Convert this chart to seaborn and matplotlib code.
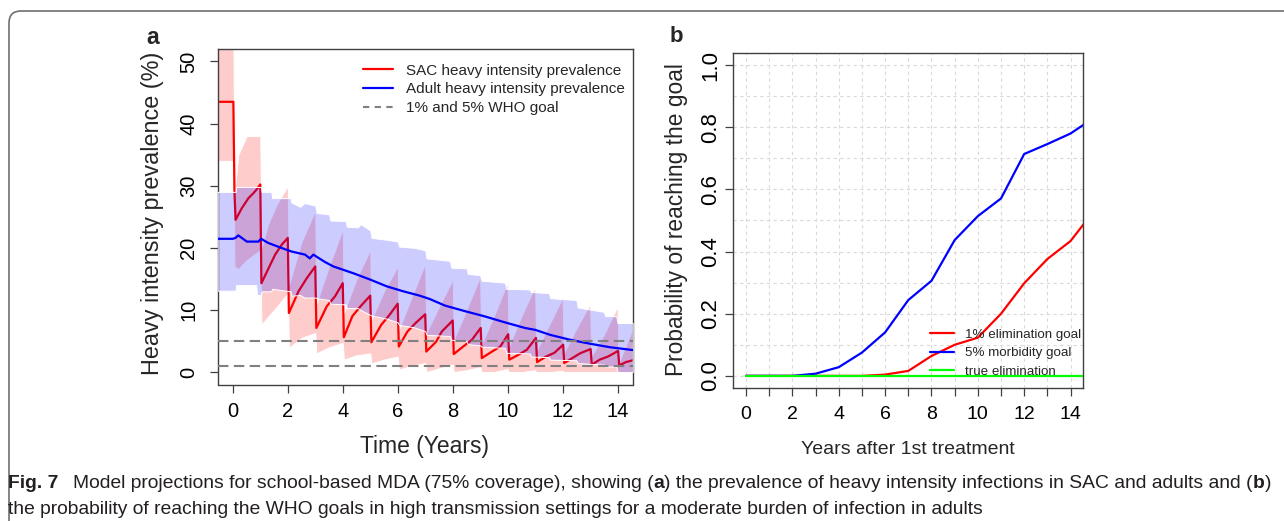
import numpy as np
import pandas as pd
import matplotlib
matplotlib.use("Agg")
import matplotlib.pyplot as plt
import seaborn as sns
from matplotlib.patches import FancyBboxPatch
from matplotlib.lines import Line2D
from matplotlib import font_manager

# ---------------- data: panel a ----------------
sac_t = [-0.55, 0.02, 0.06, 0.10, 0.33, 0.57, 0.75, 0.87, 1.00,
         1.04, 1.30, 1.54, 1.78, 2.00,
         2.04, 2.39, 2.69, 3.00,
         3.04, 3.42, 3.72, 4.00,
         4.04, 4.35, 4.65, 5.00,
         5.04, 5.40, 5.70, 6.00,
         6.04, 6.35, 6.65, 7.00,
         7.04, 7.40, 7.60, 8.00,
         8.04, 8.38, 8.70, 9.02,
         9.06, 9.43, 9.73, 10.02,
         10.06, 10.40, 10.70, 11.03,
         11.07, 11.40, 11.70, 12.02,
         12.06, 12.35, 12.65, 13.02,
         13.06, 13.35, 13.65, 14.02,
         14.06, 14.30, 14.55]
sac_mean = [43.5, 43.5, 29.0, 24.5, 26.4, 28.0, 28.8, 29.4, 30.2,
            14.3, 16.7, 18.9, 20.5, 21.6,
            9.5, 13.0, 15.1, 17.0,
            7.1, 10.6, 12.2, 14.3,
            5.6, 9.0, 10.6, 12.3,
            4.8, 7.6, 9.2, 11.0,
            4.1, 6.5, 7.9, 9.3,
            3.3, 4.9, 6.5, 8.3,
            2.9, 4.1, 5.2, 7.1,
            2.25, 3.3, 4.1, 6.1,
            2.0, 2.8, 3.6, 5.5,
            1.6, 2.5, 3.1, 4.4,
            1.45, 2.25, 3.05, 3.7,
            1.2, 2.0, 2.5, 3.4,
            1.07, 1.6, 1.9]

sac_band_t = [-0.55, 0.02, 0.06, 0.20, 0.50, 0.95, 1.00,
              1.04, 1.30, 1.60, 2.00,
              2.04, 2.50, 3.00,
              3.04, 3.50, 4.00,
              4.04, 4.50, 5.00,
              5.04, 5.50, 6.00,
              6.04, 6.50, 7.00,
              7.04, 7.50, 8.00,
              8.04, 8.50, 9.00,
              9.04, 9.50, 10.00,
              10.04, 10.50, 11.00,
              11.04, 11.50, 12.00,
              12.04, 12.50, 13.00,
              13.04, 13.50, 14.00,
              14.04, 14.55]
sac_hi = [55, 55, 29, 35, 38, 38, 39,
          20, 24, 27, 30,
          14, 21, 26,
          11, 17, 23,
          9.5, 15, 19.7,
          8.4, 13, 17,
          6.8, 12, 17.5,
          6.3, 10.5, 14.9,
          5.2, 10, 15.4,
          4.4, 9, 14.5,
          4.1, 9, 13.8,
          3.3, 7.5, 12.0,
          3.0, 7, 11.0,
          2.5, 6, 10.6,
          1.45, 7.0]
sac_lo = [34, 34, 17, 16.6, 18, 19.5, 19.5,
          7.6, 9, 10.5, 12.7,
          3.9, 5.5, 6.3,
          3.0, 4.0, 4.7,
          2.0, 2.7, 3.0,
          1.4, 2.0, 2.5,
          0.4, 1.0, 1.45,
          0.0, 0.6, 1.2,
          0.0, 0.3, 0.8,
          0.0, 0.0, 0.5,
          0.0, 0.0, 0.3,
          0.0, 0.0, 0.2,
          0.0, 0.0, 0.0,
          0.0, 0.0, 0.0,
          0.0, 0.0]

adult_t = [-0.55, 0.0, 0.1, 0.2, 0.51, 0.93, 1.03, 1.28, 1.78, 2.14, 2.63, 2.8,
           2.93, 3.36, 3.66, 4.39, 4.99, 5.6, 6.2, 6.8, 7.17, 7.72, 8.45, 9.17,
           9.9, 10.63, 11.0, 11.54, 12.27, 13.0, 13.72, 14.45, 14.55]
adult_mean = [21.45, 21.45, 21.6, 22.0, 21.0, 21.0, 21.45, 20.8, 19.96, 19.4, 18.9, 18.3,
              18.9, 17.7, 17.0, 15.9, 14.9, 13.8, 13.0, 12.3, 11.75, 10.7, 9.8, 8.96,
              8.0, 7.1, 6.8, 6.0, 5.2, 4.56, 4.0, 3.6, 3.55]

adult_band_t = [-0.55, 0.10, 0.12, 0.85, 0.88, 1.02, 1.05, 1.40, 1.43, 2.10,
                2.13, 2.45, 2.60, 3.00, 3.05, 3.50, 3.55, 4.10, 4.15, 4.55,
                4.65, 5.00, 5.05, 5.60, 6.00, 6.05, 6.60, 7.00, 7.05, 7.90,
                7.95, 8.50, 8.55, 9.00, 9.05, 9.90, 9.95, 10.80, 10.85, 11.50,
                11.55, 12.50, 12.55, 13.50, 13.55, 13.95, 14.00, 14.55]
adult_hi = [29.0, 29.0, 29.8, 29.8, 29.8, 29.8, 29.0, 29.0, 28.0, 28.0,
            27.3, 26.6, 27.2, 26.8, 25.6, 25.4, 24.4, 24.3, 23.4, 23.3,
            23.8, 22.8, 21.6, 21.3, 21.0, 20.2, 20.0, 19.6, 18.3, 17.9,
            16.8, 16.7, 15.8, 15.6, 14.7, 14.4, 13.4, 13.3, 12.9, 12.7,
            11.9, 11.6, 10.4, 9.7, 9.0, 9.0, 7.9, 7.9]
adult_lo = [13.1, 13.1, 14.0, 14.0, 12.4, 12.4, 13.0, 13.0, 13.4, 13.0,
            12.3, 12.4, 12.0, 12.0, 11.9, 11.6, 11.0, 10.9, 10.3, 10.3,
            10.0, 9.2, 9.1, 8.6, 8.0, 7.6, 7.2, 6.6, 6.0, 5.8,
            5.2, 5.0, 4.5, 4.3, 4.1, 3.9, 3.1, 3.0, 2.5, 2.4,
            2.0, 1.9, 1.45, 1.2, 0.9, 0.9, 0.0, 0.0]

who_goals = [1, 5]
legend_a = ["SAC heavy intensity prevalence", "Adult heavy intensity prevalence",
            "1% and 5% WHO goal"]
xticks_a = [0, 2, 4, 6, 8, 10, 12, 14]
yticks_a = [0, 10, 20, 30, 40, 50]

# ---------------- data: panel b ----------------
years_b = [0, 1, 2, 3, 4, 5, 6, 7, 8, 9, 10, 11, 12, 13, 14, 15]
prob_elim1 = [0, 0, 0, 0, 0, 0, 0.004, 0.016, 0.064, 0.10, 0.123, 0.20, 0.298, 0.376, 0.434, 0.53]
prob_morb5 = [0, 0, 0, 0.007, 0.028, 0.075, 0.14, 0.244, 0.306, 0.437, 0.514, 0.571, 0.714, 0.746, 0.780, 0.83]
prob_true = [0, 0, 0, 0, 0, 0, 0, 0, 0, 0, 0, 0, 0, 0, 0, 0]
goal_names = ["1% elimination goal", "5% morbidity goal", "true elimination"]
yticks_b = [0.0, 0.2, 0.4, 0.6, 0.8, 1.0]

# ---------------- style ----------------
sns.set_style("ticks")
plt.rcParams["font.family"] = ["Liberation Sans", "DejaVu Sans"]
plt.rcParams["axes.edgecolor"] = "#404040"
plt.rcParams["xtick.color"] = "#404040"
plt.rcParams["ytick.color"] = "#404040"
plt.rcParams["xtick.labelcolor"] = "black"
plt.rcParams["ytick.labelcolor"] = "black"

RED, BLUE, GREEN = "#FF0000", "#0000FF", "#00FF00"
W, H = 1284, 521
fig = plt.figure(figsize=(W / 100, H / 100), dpi=100)


def px_axes(l, t, r, b):
    return fig.add_axes([l / W, 1 - b / H, (r - l) / W, (b - t) / H])


def ftext(x, y, s, **kw):
    return fig.text(x / W, 1 - y / H, s, **kw)


# ---------------- panel a ----------------
axa = px_axes(217.7, 49, 632.7, 384.5)
axa.fill_between(sac_band_t, sac_lo, sac_hi, facecolor=(1, 0, 0, 0.2),
                 edgecolor="white", linewidth=0.7, zorder=1)
sns.lineplot(x=sac_t, y=sac_mean, ax=axa, estimator=None, sort=False,
             color=RED, linewidth=1.6, zorder=2)
axa.fill_between(adult_band_t, adult_lo, adult_hi, facecolor=(0, 0, 1, 0.2),
                 edgecolor="white", linewidth=0.7, zorder=3)
sns.lineplot(x=adult_t, y=adult_mean, ax=axa, estimator=None, sort=False,
             color=BLUE, linewidth=1.6, zorder=4)
for g in who_goals:
    axa.axhline(g, color="#808080", linewidth=1.5, dashes=(5, 2.6), zorder=5)

axa.set_xlim(-0.55, 14.55)
axa.set_ylim(-2, 52)
axa.set_xticks(xticks_a)
axa.set_yticks(yticks_a)
axa.set_xticklabels([str(v) for v in xticks_a])
axa.set_yticklabels([str(v) for v in yticks_a])
axa.tick_params(axis="both", length=6, width=0.9, labelsize=14.5, direction="out")
axa.tick_params(axis="x", pad=6.5)
axa.tick_params(axis="y", pad=8, labelrotation=90)
for lab in axa.get_yticklabels():
    lab.set_verticalalignment("center")
axa.set_xlabel("")
axa.set_ylabel("")
for sp in axa.spines.values():
    sp.set_visible(True)
    sp.set_linewidth(1.0)

handles_a = [Line2D([], [], color=RED, lw=1.6),
             Line2D([], [], color=BLUE, lw=1.6),
             Line2D([], [], color="#808080", lw=1.5, dashes=(3, 2.6))]
axa.legend(handles_a, legend_a, loc="upper left", bbox_to_anchor=(0.350, 0.956),
           frameon=False, borderpad=0, borderaxespad=0, handlelength=1.95,
           handletextpad=0.85, labelspacing=0.30, fontsize=11)

# ---------------- panel b ----------------
axb = px_axes(733.3, 52.7, 1083.3, 388.3)
df_b = pd.DataFrame({
    "year": years_b * 3,
    "prob": prob_elim1 + prob_morb5 + prob_true,
    "goal": [goal_names[0]] * len(years_b) + [goal_names[1]] * len(years_b)
            + [goal_names[2]] * len(years_b),
})
sns.lineplot(data=df_b, x="year", y="prob", hue="goal", hue_order=goal_names,
             palette=[RED, BLUE, GREEN], linewidth=1.6, legend=False, ax=axb,
             estimator=None, sort=False)
axb.set_xlim(-0.55, 14.55)
axb.set_ylim(-0.04, 1.04)
axb.set_xticks(list(range(15)))
axb.set_xticklabels([str(v) if v % 2 == 0 else "" for v in range(15)])
axb.set_yticks(yticks_b)
axb.set_yticklabels([f"{v:.1f}" for v in yticks_b])
axb.set_yticks([v / 10 for v in range(11)], minor=True)
axb.tick_params(axis="y", which="minor", length=0)
axb.tick_params(axis="both", which="major", length=6, width=0.9, direction="out")
axb.tick_params(axis="x", pad=6.5, labelsize=14)
axb.tick_params(axis="y", pad=3, labelrotation=90, labelsize=16)
for lab in axb.get_yticklabels():
    lab.set_verticalalignment("center")
axb.set_axisbelow(True)
axb.grid(True, axis="x", which="major", color="#d9d9d9", linewidth=0.8,
         linestyle=(0, (3, 3)))
axb.grid(True, axis="y", which="both", color="#d9d9d9", linewidth=0.8,
         linestyle=(0, (3, 3)))
axb.set_xlabel("")
axb.set_ylabel("")
for sp in axb.spines.values():
    sp.set_visible(True)
    sp.set_linewidth(1.0)

handles_b = [Line2D([], [], color=c, lw=1.6) for c in (RED, BLUE, GREEN)]
axb.legend(handles_b, goal_names, loc="upper left", bbox_to_anchor=(0.562, 0.178),
           frameon=False, borderpad=0, borderaxespad=0, handlelength=1.8,
           handletextpad=0.8, labelspacing=0.45, fontsize=9.6)

# ---------------- labels ----------------
ftext(152.7, 38, "a", fontsize=16.5, fontweight="bold", ha="center", va="center")
ftext(676, 37, "b", fontsize=16, fontweight="bold", ha="center", va="center")
ftext(153, 213, "Heavy intensity prevalence (%)", fontsize=16.8, rotation=90,
      ha="center", va="center")
ftext(677, 220, "Probability of reaching the goal", fontsize=16.4, rotation=90,
      ha="center", va="center")
ftext(425, 446.7, "Time (Years)", fontsize=16.5, ha="center", va="center")
ftext(908, 450, "Years after 1st treatment", fontsize=14, ha="center", va="center")

# ---------------- frame ----------------
frame = FancyBboxPatch((0.09, -0.3), 13.2, 5.40,
                       boxstyle="round,pad=0,rounding_size=0.12",
                       transform=fig.dpi_scale_trans, fill=False,
                       edgecolor="#707070", linewidth=1.2, clip_on=False)
fig.add_artist(frame)

# ---------------- caption ----------------
names = {f.name for f in font_manager.fontManager.ttflist}
cap_font = "Liberation Sans Narrow" if "Liberation Sans Narrow" in names else "Liberation Sans"
cap_color = "#231F20"
line1 = [("Fig. 7", "bold", 0.75),
         ("Model projections for school-based MDA (75% coverage), showing (", "normal", 0),
         ("a", "bold", 0),
         (") the prevalence of heavy intensity infections in SAC and adults and (", "normal", 0),
         ("b", "bold", 0),
         (")", "normal", 0)]
line2 = [("the probability of reaching the WHO goals in high transmission settings for a moderate burden of infection in adults", "normal", 0)]

renderer = fig.canvas.get_renderer()


def draw_pieces(pieces, x0, ybase, fs, keep=True):
    x = x0
    arts = []
    for txt, wt, gap in pieces:
        t = ftext(x, ybase, txt, fontsize=fs, fontweight=wt, family=cap_font,
                  color=cap_color, ha="left", va="baseline")
        bb = t.get_window_extent(renderer)
        x += bb.width + gap * fs * 100 / 72
        arts.append(t)
    if not keep:
        for a in arts:
            a.remove()
    return x - x0


fs0 = 12.0
w0 = draw_pieces(line1, 8, 488, fs0, keep=False)
fs = fs0 * (1265.0 / w0)
draw_pieces(line1, 8, 488, fs)
draw_pieces(line2, 8, 514, fs)

fig.savefig("out.png", dpi=100)
